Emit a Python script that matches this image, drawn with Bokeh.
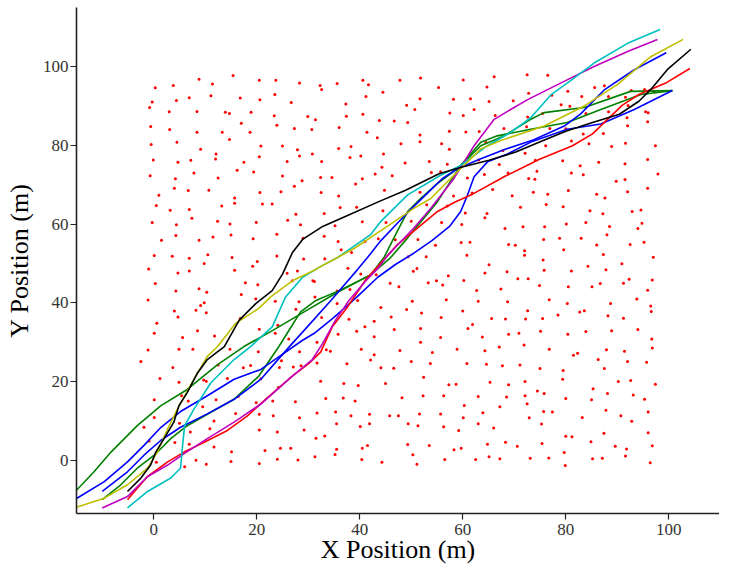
from bokeh.plotting import figure
from bokeh.models import FixedTicker, Range1d
from bokeh.embed import file_html
from bokeh.resources import INLINE

# ---------------- data ----------------
x_ticks = [0, 20, 40, 60, 80, 100]
y_ticks = [0, 20, 40, 60, 80, 100]

obstacle_points = [
    (8.8,96.8),(15.4,97.7),(11.4,95.6),(20.5,96.5),(23.7,96.5),(28.3,95.8),(32.3,95.2),(32.6,94.2),(35.6,95.7),(40.6,96.5),(41.7,95.4),(47.8,96.5),
    (0.3,94.6),(3.8,95.2),(6.9,92.1),(11.1,92.6),(4.4,91.4),(-0.3,91.0),(-0.8,89.6),(16.8,92.0),(20.6,91.6),(23.5,92.9),(26.7,90.9),(37.3,90.5),(41.2,92.4),(44.5,93.5),
    (3.0,88.5),(8.4,88.6),(13.9,88.4),(14.7,88.1),(18.9,88.4),(23.4,87.5),(29.9,87.3),(31.4,86.5),(37.4,87.4),(40.6,87.9),(43.8,86.3),(46.7,86.2),
    (-0.6,84.8),(3.1,84.0),(8.4,83.3),(13.3,83.3),(17.0,85.6),(18.7,83.3),(23.9,85.1),(27.3,84.3),(30.7,84.0),(36.0,84.5),(41.4,83.3),(43.4,81.9),
    (14.7,81.5),(-0.5,80.2),(4.5,80.8),(9.1,79.0),(12.1,77.8),(12.0,76.5),(20.8,79.8),(25.0,79.8),(27.9,78.9),(28.3,77.3),(30.8,77.8),(35.9,79.2),(38.3,79.7),(40.2,77.3),(44.6,77.8),(48.0,80.4),
    (-0.1,76.3),(4.7,75.7),(7.2,76.2),(17.5,75.7),(20.5,77.1),(25.9,75.9),(32.6,75.9),(38.1,76.9),(48.8,75.5),
    (7.8,73.0),(-0.7,72.3),(4.2,71.5),(12.5,71.7),(16.2,73.7),(19.4,73.2),(25.0,72.2),(28.8,71.0),(32.4,71.8),(34.6,71.8),(39.2,70.2),(40.5,71.5),(43.0,72.7),(44.3,74.4),(46.3,72.3),
    (1.0,67.3),(4.0,69.1),(6.7,68.5),(10.7,68.6),(15.7,66.6),(20.6,68.0),(24.7,68.2),(27.3,69.6),(32.5,68.0),(35.9,67.1),(44.8,68.6),
    (0.5,64.7),(3.2,63.5),(6.9,63.7),(13.2,64.6),(15.7,65.3),(21.1,65.1),(23.0,65.1),(27.6,62.5),(33.1,62.7),(36.2,64.2),(39.4,64.3),(44.5,63.4),
    (-0.3,60.4),(4.4,59.8),(7.4,61.5),(12.4,60.7),(14.8,60.0),(19.9,60.4),(26.0,61.0),(28.5,59.8),(35.2,59.6),(40.5,60.6),(45.1,60.4),
    (1.5,55.9),(4.3,57.1),(8.8,55.9),(11.5,56.7),(15.0,57.2),(19.3,56.3),(23.9,57.4),(29.0,56.4),(33.1,56.9),(35.8,55.6),(41.0,55.6),(43.6,56.3),(46.9,56.0),
    (0.1,52.0),(3.6,51.8),(6.9,51.3),(10.5,52.2),(9.8,50.0),(15.2,51.5),(20.1,50.5),(23.9,51.9),(19.2,49.3),(29.1,51.1),(33.2,51.2),(36.4,53.5),(38.4,52.8),
    (51.8,97.1),(60.1,96.6),(66.1,97.4),(72.5,97.9),(76.5,97.8),(55.3,94.7),(64.7,94.8),(72.8,93.2),(77.3,92.7),(80.4,93.7),(83.1,92.4),(85.6,94.7),(87.5,95.1),(88.3,92.4),(92.7,93.9),(95.3,94.2),(97.1,93.7),
    (51.7,91.8),(58.2,91.7),(61.5,91.8),(65.1,91.1),(69.8,91.3),(79.1,90.3),(80.8,89.9),(83.9,88.1),(88.3,88.5),(91.6,92.2),(92.1,90.1),(95.5,88.5),(96.0,88.3),
    (49.1,90.2),(50.7,89.1),(57.5,88.2),(60.1,87.6),(62.2,89.1),(66.3,87.6),(72.6,87.2),(75.5,88.1),
    (49.3,85.8),(51.7,82.6),(51.7,80.9),(57.4,83.6),(60.6,83.4),(63.2,83.5),(68.0,84.3),(72.4,84.7),(76.9,84.3),(80.0,84.2),(83.4,82.9),(87.3,83.0),(91.9,87.0),(92.0,85.0),(95.9,86.0),
    (55.9,80.4),(57.4,79.0),(64.5,80.7),(67.8,78.7),(72.1,78.0),(76.1,79.9),(81.1,81.1),(84.5,80.4),(88.9,79.7),(91.6,80.5),(97.4,79.9),
    (53.5,75.9),(57.0,75.2),(53.9,73.1),(55.7,73.3),(60.9,71.7),(63.1,76.3),(64.2,72.6),(67.1,75.1),(68.8,73.0),(74.1,76.2),(74.4,73.4),(72.8,71.6),(74.0,71.4),(79.4,76.1),(81.1,73.0),(82.8,74.8),(83.4,72.5),(86.4,75.7),(89.8,70.9),(91.5,71.3),(91.5,75.3),(95.9,76.4),(97.9,72.7),
    (51.7,68.1),(58.2,67.1),(53.0,64.9),(57.0,64.6),(60.5,62.8),(61.8,67.9),(65.8,68.8),(69.6,67.2),(71.2,64.3),(73.7,68.1),(76.2,65.0),(76.5,67.6),(79.5,64.4),(80.5,68.5),(84.7,63.4),(86.0,67.6),(87.6,66.6),(87.2,62.6),(92.0,68.2),(92.9,63.2),(94.6,63.6),(95.9,69.1),
    (50.0,60.7),(55.9,60.4),(51.3,56.1),(54.7,54.6),(59.8,59.9),(59.7,55.3),(61.4,55.4),(64.3,61.6),(64.7,62.7),(68.2,58.9),(68.9,54.8),(70.2,54.6),(71.7,59.3),(72.0,53.2),(72.0,52.1),(75.9,59.3),(75.7,56.1),(78.8,56.4),(79.6,53.5),(80.1,60.0),(83.0,56.4),(83.9,60.4),(86.0,54.7),(88.0,57.3),(88.5,59.4),(92.5,54.8),(94.0,58.9),(94.8,60.2),(95.2,55.4),
    (49.4,51.7),(52.9,51.7),(60.8,52.1),(65.1,49.7),(75.6,50.9),(84.3,49.3),(87.3,52.3),(90.9,49.9),(97.0,51.6),
    (4.7,47.6),(6.9,48.1),(15.7,48.3),(27.9,48.1),(25.9,47.5),(37.7,48.8),(40.2,47.3),(43.2,47.1),(0.3,44.9),(8.8,43.6),(10.3,42.7),(4.3,43.0),(17.8,45.1),(20.2,44.6),(17.0,42.1),(19.8,41.0),(26.9,45.6),(30.9,45.6),(31.2,45.4),(35.6,43.0),(38.1,43.4),(45.9,45.0),(47.6,44.1),
    (-1.1,40.7),(9.8,40.0),(9.1,39.3),(8.2,38.1),(4.0,37.9),(4.7,36.4),(10.2,37.5),(23.6,40.4),(28.2,40.3),(31.3,41.5),(27.6,38.4),(35.6,39.8),(39.6,40.6),(44.1,38.8),
    (0.6,34.8),(8.5,32.9),(0.1,32.3),(5.6,31.2),(11.8,31.6),(16.8,36.0),(20.5,33.3),(24.1,34.3),(23.6,32.3),(26.2,30.8),(32.6,36.3),(37.9,35.8),(39.4,32.8),(41.0,33.9),(42.8,35.3),(42.8,31.4),(46.1,36.4),(46.7,33.2),
    (-1.1,28.0),(4.9,28.2),(7.6,28.2),(14.8,28.2),(20.3,27.6),(28.3,27.6),(31.7,30.0),(33.5,28.1),(34.3,27.7),(35.8,32.0),(40.3,28.2),(42.8,26.8),(42.1,25.5),(47.8,27.9),
    (3.7,23.6),(1.2,20.8),(4.9,19.8),(9.7,20.4),(10.2,20.1),(12.5,24.2),(14.3,20.8),(17.4,23.5),(18.8,24.1),(20.8,20.7),(24.4,23.6),(24.8,25.3),(27.1,23.7),(28.6,24.0),(31.7,24.7),(32.4,20.1),(37.5,24.5),(44.1,23.5),(46.6,23.4),
    (0.1,15.4),(5.4,16.4),(6.7,15.1),(9.5,13.6),(12.1,15.4),(16.4,16.2),(19.9,14.6),(23.1,15.1),(24.2,18.5),(27.5,14.9),(33.4,15.7),(36.9,19.5),(39.7,19.0),(36.8,15.8),(39.1,15.1),(45.0,19.5),(48.2,15.9),
    (5.0,9.4),(7.1,7.2),(11.7,10.0),(10.9,8.0),(15.9,11.9),(20.5,11.7),(23.2,11.3),(28.3,10.8),(31.7,12.0),(35.3,12.3),(38.3,11.3),(41.9,11.7),(45.8,11.3),(47.5,11.3),
    (-0.9,4.9),(4.1,4.5),(6.9,4.1),(11.7,3.4),(15.1,2.2),(20.5,7.7),(24.0,7.2),(29.2,7.7),(31.5,5.6),(33.2,6.2),(35.5,9.3),(35.5,2.8),(40.1,8.6),(41.5,3.8),(40.5,3.1),(41.9,9.3),
    (0.5,-0.5),(6.0,-1.6),(8.2,0.0),(10.2,-1.0),(15.0,-0.3),(20.5,-0.8),(21.6,2.5),(24.6,3.1),(26.6,3.1),(24.0,0.3),(28.0,0.1),(31.3,0.9),(35.2,1.5),(40.4,0.2),(44.3,-0.5),
    (-1.0,48.6),(-2.5,25.1),(-1.9,8.4),(0.1,10.9),
    (50.4,48.0),(51.1,48.7),(57.2,46.9),(64.3,47.6),(68.6,47.9),(75.8,48.3),(81.1,48.1),(87.8,48.4),(53.3,45.1),(54.9,45.6),(56.1,44.5),(60.2,45.7),(62.7,43.1),(67.4,43.5),(70.7,46.1),(72.7,46.1),(74.9,44.4),(80.5,44.1),(85.1,44.1),(86.7,44.9),(91.2,45.0),(92.3,46.0),(95.9,43.2),(96.8,45.8),
    (50.2,40.4),(49.1,38.3),(56.8,40.8),(63.0,40.4),(68.7,40.3),(76.8,40.8),(80.3,39.8),(88.7,39.8),(93.8,41.0),(96.5,39.2),(96.6,37.8),
    (52.0,37.4),(55.8,36.3),(60.0,37.9),(65.6,36.0),(68.3,35.9),(72.2,35.9),(72.6,38.0),(75.5,36.0),(78.5,36.9),(82.7,37.7),(83.6,38.0),(88.2,36.7),(91.2,36.1),
    (51.8,33.5),(55.7,31.2),(61.0,33.5),(61.9,34.5),(63.8,31.3),(68.9,32.0),(70.9,32.3),(75.1,32.8),(80.4,32.0),(83.9,32.7),(88.9,32.9),(94.0,33.2),(96.7,30.8),
    (51.8,30.0),(54.1,27.4),(58.9,28.2),(64.3,27.8),(67.1,28.8),(71.9,29.3),(76.8,28.2),(81.5,26.7),(82.3,27.2),(86.3,25.6),(87.9,28.1),(91.4,27.7),(92.0,25.1),(95.7,24.9),(96.8,28.5),
    (50.0,25.1),(53.7,24.6),(60.8,24.6),(64.6,24.4),(67.7,24.0),(71.1,24.2),(75.0,23.3),(79.5,22.8),(79.4,20.6),(87.5,23.3),
    (52.4,21.1),(57.3,19.2),(58.7,19.3),(65.3,19.8),(68.9,19.2),(72.1,20.0),(74.5,17.6),(75.8,17.0),(85.3,18.2),(88.1,17.0),(90.2,20.0),(92.6,20.3),(97.4,19.3),(93.1,16.6),(95.3,15.5),
    (52.3,16.4),(56.3,16.4),(63.0,16.2),(68.5,16.1),(72.1,16.4),(80.0,15.7),(85.0,15.4),
    (51.6,11.8),(49.4,9.3),(51.3,8.8),(55.7,11.8),(60.3,13.9),(60.1,10.8),(63.9,12.1),(67.2,13.6),(72.5,14.4),(75.7,12.4),(77.4,12.3),(72.9,10.8),(83.2,10.9),(87.8,12.7),(90.7,11.3),(92.8,9.9),(96.0,12.3),
    (56.3,8.5),(59.2,7.6),(63.0,9.3),(66.0,8.2),(75.3,9.2),(80.0,6.1),(81.2,6.0),(84.9,4.7),(87.4,6.9),(89.6,3.6),(91.8,2.9),(96.0,7.0),(96.8,3.7),
    (49.3,4.0),(53.5,3.8),(50.3,1.4),(58.3,2.7),(59.7,3.1),(64.8,4.1),(68.3,4.6),(70.6,3.6),(75.4,4.3),(79.7,2.0),
    (51.1,-1.0),(56.5,0.2),(62.5,0.2),(65.1,0.9),(67.2,0.4),(73.1,0.5),(76.7,0.6),(79.9,-1.3),(85.2,0.4),(87.1,0.5),(91.6,1.1),(96.4,-0.6),
]

green1_x = [-15, -11.6, -8.3, -3.2, 1.4, 6.5, 12.4, 17.5, 22.7, 29.2, 35.7, 42.1, 44.7, 47.3, 49.3, 51.8, 55.0, 59.0, 63.5, 68.0, 73.2, 75.8, 83.6, 92.6, 100.7]
green1_y = [-7.6, -2.9, 2.1, 8.8, 13.9, 18.0, 24.3, 28.9, 32.7, 37.7, 42.7, 47.1, 51.5, 58.2, 63.2, 66.5, 70.2, 74.1, 79.9, 82.4, 86.6, 88.3, 89.6, 93.7, 93.9]

green2_x = [-10, -6.4, -3.2, 0.1, 3.3, 6.5, 11.1, 15.6, 20.4, 24.3, 26.3, 28.5, 31.5, 36.0, 42.1, 46.0, 49.3, 55.1, 59.6, 63.5, 66.7, 73.2, 80.3, 86.8, 94.6, 100.7]
green2_y = [-10, -6.2, -2.0, 1.3, 5.5, 8.8, 12.2, 15.5, 21.4, 28.9, 33.1, 37.7, 40.6, 43.1, 47.1, 51.5, 56.5, 65.7, 74.9, 80.8, 82.4, 84.1, 85.8, 89.1, 92.9, 93.9]

blue1_x = [-15, -9.6, -5.1, -1.9, 1.4, 5.2, 10.4, 15.6, 20.8, 24.0, 28.9, 31.1, 34.7, 37.6, 40.5, 43.5, 47.0, 50.5, 54.0, 57.5, 59.6, 60.9, 62.2, 64.8, 68.7, 73.5, 80.3, 86.8, 93.3, 100.7]
blue1_y = [-9.7, -5.4, -0.4, 3.8, 8.4, 12.4, 16.4, 20.6, 23.1, 26.0, 30.5, 32.2, 36.0, 39.3, 42.8, 46.5, 49.8, 52.6, 55.8, 59.5, 63.2, 67.3, 72.0, 75.8, 77.8, 81.0, 84.1, 85.4, 89.1, 93.9]

blue2_x = [-10, -5.1, -1.9, 1.4, 5.2, 10.4, 15.6, 20.8, 23.4, 26.9, 29.2, 34.4, 39.6, 41.5, 44.1, 47.3, 50.5, 53.1, 56.0, 59.0, 63.5, 68.0, 73.8, 79.7, 82.9, 87.4, 93.3, 99.5]
blue2_y = [-7.9, -2.9, 1.3, 5.1, 8.4, 11.8, 15.5, 20.6, 24.5, 29.7, 33.0, 40.6, 48.5, 51.5, 55.8, 60.2, 64.5, 67.8, 71.5, 74.1, 76.6, 78.9, 81.4, 84.9, 88.0, 94.0, 99.2, 103.5]

red_x = [-5.1, -3.2, -1.2, 2.7, 5.9, 9.8, 14.3, 18.2, 21.7, 26.9, 30.2, 32.4, 34.7, 37.6, 41.2, 42.8, 47.3, 51.2, 55.1, 58.5, 61.9, 68.3, 74.8, 81.3, 85.2, 87.8, 91.0, 94.2, 99.4, 104.1]
red_y = [-10, -7.1, -4.1, -0.4, 2.1, 4.6, 7.6, 11.3, 15.5, 21.4, 24.7, 27.5, 34.0, 38.9, 46.0, 48.2, 54.8, 59.0, 63.2, 65.6, 67.6, 72.2, 76.4, 79.9, 82.9, 86.2, 90.2, 92.9, 95.8, 99.5]

magenta_x = [-10, -5.1, -1.2, 2.7, 5.9, 10.4, 15.6, 20.8, 26.9, 30.8, 32.8, 35.3, 37.9, 41.2, 43.7, 45.4, 50.5, 53.8, 58.3, 62.2, 66.1, 69.3, 72.6, 79.0, 85.5, 92.0, 97.8]
magenta_y = [-12.1, -9.2, -4.1, -1.2, 1.7, 5.5, 9.7, 14.3, 21.4, 25.6, 29.7, 35.6, 40.6, 45.6, 49.0, 52.0, 59.0, 64.0, 71.6, 79.9, 86.6, 89.1, 91.6, 95.8, 100.0, 103.8, 106.9]

cyan_x = [-5.1, -1.2, 3.3, 5.2, 5.6, 6.0, 7.8, 11.1, 15.6, 18.8, 23.0, 25.6, 28.9, 32.1, 35.7, 42.1, 44.1, 49.3, 55.7, 59.6, 64.8, 69.3, 73.2, 77.1, 81.0, 85.5, 92.0, 98.3]
cyan_y = [-12.1, -7.9, -4.5, -2.0, 3.8, 8.8, 13.0, 19.7, 25.6, 28.9, 33.9, 41.5, 46.5, 49.0, 51.5, 57.3, 60.7, 67.4, 72.4, 74.9, 79.9, 83.3, 87.0, 92.8, 96.5, 100.9, 105.9, 109.4]

yellow_x = [-15, -9.6, -5.1, -1.2, 0.7, 2.7, 4.6, 7.8, 10.4, 12.4, 15.9, 20.4, 22.7, 26.9, 31.1, 32.8, 38.9, 45.4, 50.5, 53.8, 56.8, 59.6, 63.5, 67.4, 75.8, 83.6, 90.0, 96.5, 102.8]
yellow_y = [-11.9, -9.6, -6.2, -2.0, 2.1, 8.0, 13.0, 20.6, 26.4, 28.9, 34.8, 38.6, 41.5, 45.6, 48.2, 49.5, 53.8, 59.5, 64.0, 66.5, 70.5, 74.1, 79.1, 81.2, 84.9, 90.0, 95.4, 102.5, 106.9]

black_x = [-5.1, -2.5, -0.6, 0.4, 2.0, 3.9, 4.9, 6.5, 8.5, 10.4, 13.7, 16.6, 19.8, 23.0, 25.0, 26.9, 28.9, 32.8, 37.3, 43.7, 48.9, 55.4, 59.9, 65.1, 70.3, 74.8, 80.0, 85.2, 90.4, 94.2, 96.8, 99.7, 104.3]
black_y = [-7.9, -4.5, -1.2, 2.1, 5.5, 9.7, 13.9, 17.2, 22.2, 25.6, 28.9, 35.6, 39.8, 43.1, 47.3, 52.7, 56.1, 59.4, 62.0, 65.7, 68.6, 72.8, 74.5, 76.2, 78.3, 80.8, 83.6, 85.8, 87.9, 91.2, 94.6, 99.2, 104.4]

trajectories = [
    (green1_x, green1_y, "#008000"),
    (green2_x, green2_y, "#008000"),
    (blue1_x, blue1_y, "#0000ff"),
    (blue2_x, blue2_y, "#0000ff"),
    (red_x, red_y, "#ff0000"),
    (magenta_x, magenta_y, "#bf00bf"),
    (cyan_x, cyan_y, "#00bfbf"),
    (yellow_x, yellow_y, "#bfbf00"),
    (black_x, black_y, "#000000"),
]

# ---------------- figure ----------------
FONT = "Liberation Serif"

p = figure(width=719, height=566, output_backend="svg", toolbar_location=None,
           x_range=Range1d(-15, 109.85), y_range=Range1d(-13.5, 115),
           min_border_left=76, min_border_right=0, min_border_top=7, min_border_bottom=0)

p.outline_line_color = None
p.xgrid.visible = False
p.ygrid.visible = False
p.background_fill_color = "white"
p.border_fill_color = "white"

ox = [pt[0] for pt in obstacle_points]
oy = [pt[1] for pt in obstacle_points]
p.scatter(ox, oy, size=3, color="#ff0000", line_color=None)

for xs, ys, col in trajectories:
    p.line(xs, ys, line_color=col, line_width=1.6)

for ax, ticks in ((p.xaxis, x_ticks), (p.yaxis, y_ticks)):
    ax.ticker = FixedTicker(ticks=ticks)
    ax.minor_tick_line_color = None
    ax.major_tick_out = 6
    ax.major_tick_in = 0
    ax.axis_line_color = "#222222"
    ax.axis_line_width = 1.6
    ax.major_tick_line_color = "#222222"
    ax.major_tick_line_width = 1.2
    ax.major_label_text_font = FONT
    ax.major_label_text_font_size = "17px"
    ax.major_label_text_color = "#333333"
    ax.major_label_text_line_height = 1.0
    ax.axis_label_text_font = FONT
    ax.axis_label_text_font_size = "26px"
    ax.axis_label_text_font_style = "normal"
    ax.axis_label_text_color = "#000000"

p.xaxis.axis_label = "X Position (m)"
p.yaxis.axis_label = "Y Position (m)"
p.xaxis.axis_label_text_line_height = 0.85
p.yaxis.axis_label_text_line_height = 1.0
p.xaxis.major_label_standoff = 4
p.yaxis.major_label_standoff = 2
p.xaxis.axis_label_standoff = -3
p.yaxis.axis_label_standoff = 6

open("out.html", "w").write(file_html(p, INLINE))
